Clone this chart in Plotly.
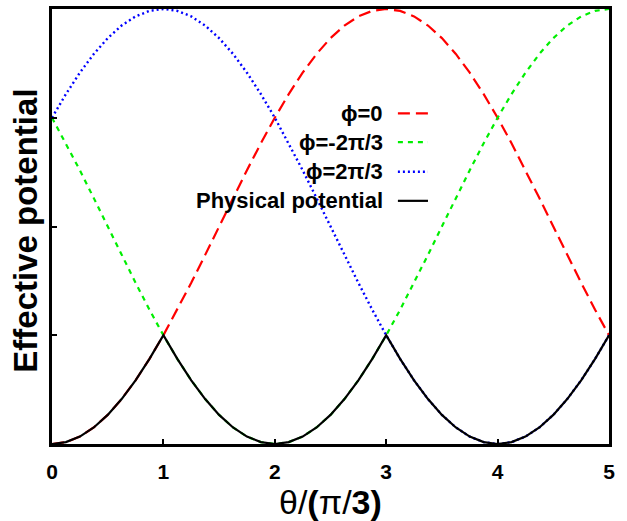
import plotly.graph_objects as go

# theta/(pi/3) sample positions
theta = [i * 0.125 for i in range(41)]

phi_0 = [0, 0.0086, 0.0341, 0.0761, 0.1340, 0.2066, 0.2929, 0.3912, 0.5, 0.6173,
         0.7412, 0.8695, 1.0, 1.1305, 1.2588, 1.3827, 1.5, 1.6088, 1.7071, 1.7934,
         1.8660, 1.9239, 1.9659, 1.9914, 2.0, 1.9914, 1.9659, 1.9239, 1.8660, 1.7934,
         1.7071, 1.6088, 1.5, 1.3827, 1.2588, 1.1305, 1.0, 0.8695, 0.7412, 0.6173, 0.5]

phi_m2pi3 = [1.5, 1.3827, 1.2588, 1.1305, 1.0, 0.8695, 0.7412, 0.6173, 0.5, 0.3912,
             0.2929, 0.2066, 0.1340, 0.0761, 0.0341, 0.0086, 0, 0.0086, 0.0341, 0.0761,
             0.1340, 0.2066, 0.2929, 0.3912, 0.5, 0.6173, 0.7412, 0.8695, 1.0, 1.1305,
             1.2588, 1.3827, 1.5, 1.6088, 1.7071, 1.7934, 1.8660, 1.9239, 1.9659, 1.9914, 2.0]

phi_p2pi3 = [1.5, 1.6088, 1.7071, 1.7934, 1.8660, 1.9239, 1.9659, 1.9914, 2.0, 1.9914,
             1.9659, 1.9239, 1.8660, 1.7934, 1.7071, 1.6088, 1.5, 1.3827, 1.2588, 1.1305,
             1.0, 0.8695, 0.7412, 0.6173, 0.5, 0.3912, 0.2929, 0.2066, 0.1340, 0.0761,
             0.0341, 0.0086, 0, 0.0086, 0.0341, 0.0761, 0.1340, 0.2066, 0.2929, 0.3912, 0.5]

physical = [0, 0.0086, 0.0341, 0.0761, 0.1340, 0.2066, 0.2929, 0.3912, 0.5, 0.3912,
            0.2929, 0.2066, 0.1340, 0.0761, 0.0341, 0.0086, 0, 0.0086, 0.0341, 0.0761,
            0.1340, 0.2066, 0.2929, 0.3912, 0.5, 0.3912, 0.2929, 0.2066, 0.1340, 0.0761,
            0.0341, 0.0086, 0, 0.0086, 0.0341, 0.0761, 0.1340, 0.2066, 0.2929, 0.3912, 0.5]

x_ticks = [0, 1, 2, 3, 4, 5]
y_ticks = [0, 0.5, 1, 1.5, 2]

legend_labels = ["\u03d5=0", "\u03d5=-2\u03c0/3", "\u03d5=2\u03c0/3", "Physical potential"]

FONT = "Liberation Sans, Arial, Helvetica, sans-serif"

series = [
    (phi_0, "#ff0000", "12px,6px", 2.2),
    (phi_m2pi3, "#00ee00", "5px,5px", 2.2),
    (phi_p2pi3, "#0000ff", "2px,3px", 2.4),
    (physical, "#000000", "solid", 2.2),
]

fig = go.Figure()
for (ys, color, dash, w), name in zip(series, legend_labels):
    fig.add_trace(go.Scatter(x=theta, y=ys, mode="lines", name=name,
                             line=dict(color=color, dash=dash, width=w),
                             showlegend=False))

# manual legend (text right-aligned, sample on the right)
leg_y = [0.760, 0.694, 0.626, 0.559]
shapes = []
annotations = []
for (ys, color, dash, w), name, yy in zip(series, legend_labels, leg_y):
    annotations.append(dict(xref="paper", yref="paper", x=0.597, y=yy, text=name,
                            showarrow=False, xanchor="right", yanchor="middle",
                            font=dict(family=FONT, size=22, color="black", weight="bold")))
    shapes.append(dict(type="line", xref="paper", yref="paper", x0=0.621, x1=0.675,
                       y0=yy, y1=yy, line=dict(color=color, dash=dash, width=w)))

annotations.append(dict(xref="paper", yref="paper", x=-0.047, y=0.49,
                        text="<b>Effective potential</b>", textangle=-90, showarrow=False,
                        xanchor="center", yanchor="middle",
                        font=dict(family=FONT, size=33, color="black")))
annotations.append(dict(xref="paper", yref="paper", x=0.5, y=-0.133,
                        text="\u03b8/<b>(</b>\u03c0/<b>3)</b>", showarrow=False,
                        xanchor="center", yanchor="middle",
                        font=dict(family=FONT, size=34, color="black")))

fig.update_layout(
    width=627, height=521,
    margin=dict(l=52, r=18, t=6, b=77),
    paper_bgcolor="white", plot_bgcolor="white",
    shapes=shapes, annotations=annotations,
    xaxis=dict(range=[0, 5], tickvals=x_ticks, ticktext=[str(v) for v in x_ticks],
               ticks="inside", ticklen=5, tickwidth=2, tickcolor="black",
               showline=True, linecolor="black", linewidth=2.5, mirror=True,
               showgrid=False, zeroline=False, ticklabelstandoff=7,
               tickfont=dict(family=FONT, size=21, color="black", weight="bold")),
    yaxis=dict(range=[0, 2], tickvals=y_ticks, showticklabels=False,
               ticks="inside", ticklen=5, tickwidth=2, tickcolor="black",
               showline=True, linecolor="black", linewidth=2.5, mirror=True,
               showgrid=False, zeroline=False),
)

fig.write_html("out.html")
